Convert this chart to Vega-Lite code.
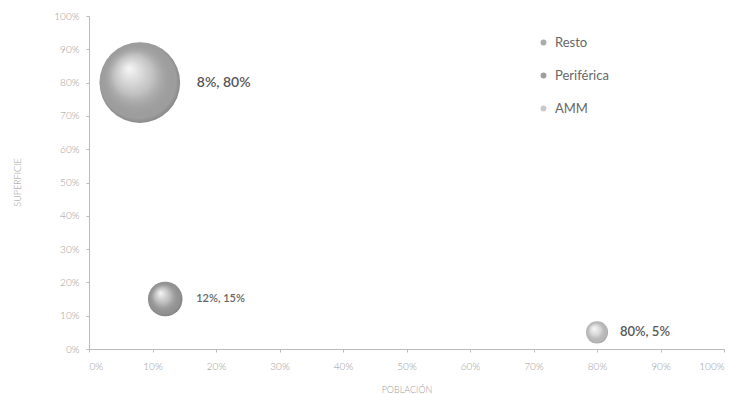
{
  "$schema": "https://vega.github.io/schema/vega-lite/v6.json",
  "autosize": {"type": "none"},
  "width": 635,
  "height": 333,
  "padding": {"left": 89, "top": 16, "right": 15, "bottom": 45},
  "background": "white",
  "config": {
    "view": {"stroke": null},
    "font": "Lato",
    "axis": {
      "grid": false,
      "domainColor": "#bbbbbb",
      "tickColor": "#bbbbbb",
      "tickSize": 3,
      "labelColor": "#999999",
      "labelFont": "Lato",
      "labelFontSize": 10,
      "labelFontWeight": 300,
      "titleColor": "#999999",
      "titleFont": "Lato",
      "titleFontSize": 9,
      "titleFontWeight": 300
    }
  },
  "data": {
    "values": [
      {"zona": "Resto", "poblacion": 0.08, "superficie": 0.80, "valor": 100, "etiqueta": "8%, 80%"},
      {"zona": "Periférica", "poblacion": 0.12, "superficie": 0.15, "valor": 18.4, "etiqueta": "12%, 15%"},
      {"zona": "AMM", "poblacion": 0.80, "superficie": 0.05, "valor": 7.5, "etiqueta": "80%, 5%"}
    ]
  },
  "encoding": {
    "x": {
      "field": "poblacion", "type": "quantitative",
      "scale": {"domain": [0, 1], "nice": false},
      "axis": {"format": ".0%", "values": [0,0.1,0.2,0.3,0.4,0.5,0.6,0.7,0.8,0.9,1], "title": "POBLACIÓN", "labelPadding": 9, "titlePadding": 14}
    },
    "y": {
      "field": "superficie", "type": "quantitative",
      "scale": {"domain": [0, 1], "nice": false},
      "axis": {"format": ".0%", "values": [0,0.1,0.2,0.3,0.4,0.5,0.6,0.7,0.8,0.9,1], "title": "SUPERFICIE", "labelPadding": 7, "titleX": -67, "titleY": 166}
    }
  },
  "layer": [
    {
      "mark": {"type": "circle", "opacity": 1, "stroke": null},
      "encoding": {
        "size": {"field": "valor", "type": "quantitative", "scale": {"domain": [0, 100], "range": [0, 6500]}, "legend": null},
        "color": {
          "field": "zona", "type": "nominal",
          "scale": {"domain": ["Resto", "Periférica", "AMM"], "range": ["#ababab", "#9e9e9e", "#c8c8c8"]},
          "legend": {
            "title": null,
            "orient": "none",
            "legendX": 448,
            "legendY": 20,
            "symbolType": "circle",
            "symbolSize": 35,
            "labelFontSize": 13,
            "labelColor": "#666666",
            "labelFont": "Lato",
            "labelOffset": 5,
            "rowPadding": 19,
            "symbolStrokeWidth": 0
          }
        }
      }
    },
    {
      "mark": {
        "type": "circle",
        "opacity": 1,
        "fill": {
          "gradient": "radial",
          "x1": 0.36, "y1": 0.32, "r1": 0,
          "x2": 0.5, "y2": 0.5, "r2": 0.55,
          "stops": [
            {"offset": 0, "color": "rgba(255,255,255,0.9)"},
            {"offset": 0.45, "color": "rgba(255,255,255,0.25)"},
            {"offset": 0.85, "color": "rgba(0,0,0,0.08)"},
            {"offset": 1, "color": "rgba(0,0,0,0.3)"}
          ]
        }
      },
      "encoding": {
        "size": {"field": "valor", "type": "quantitative", "scale": {"domain": [0, 100], "range": [0, 6500]}, "legend": null}
      }
    },
    {
      "transform": [{"filter": "datum.zona === 'Resto'"}],
      "mark": {"type": "text", "align": "left", "baseline": "middle", "dx": 57, "fontSize": 14, "fontWeight": 600, "color": "#555555", "font": "Lato"},
      "encoding": {"text": {"field": "etiqueta"}}
    },
    {
      "transform": [{"filter": "datum.zona === 'Periférica'"}],
      "mark": {"type": "text", "align": "left", "baseline": "middle", "dx": 31, "fontSize": 11, "fontWeight": 600, "color": "#666666", "font": "Lato"},
      "encoding": {"text": {"field": "etiqueta"}}
    },
    {
      "transform": [{"filter": "datum.zona === 'AMM'"}],
      "mark": {"type": "text", "align": "left", "baseline": "middle", "dx": 23, "fontSize": 13, "fontWeight": 600, "color": "#555555", "font": "Lato"},
      "encoding": {"text": {"field": "etiqueta"}}
    }
  ]
}
